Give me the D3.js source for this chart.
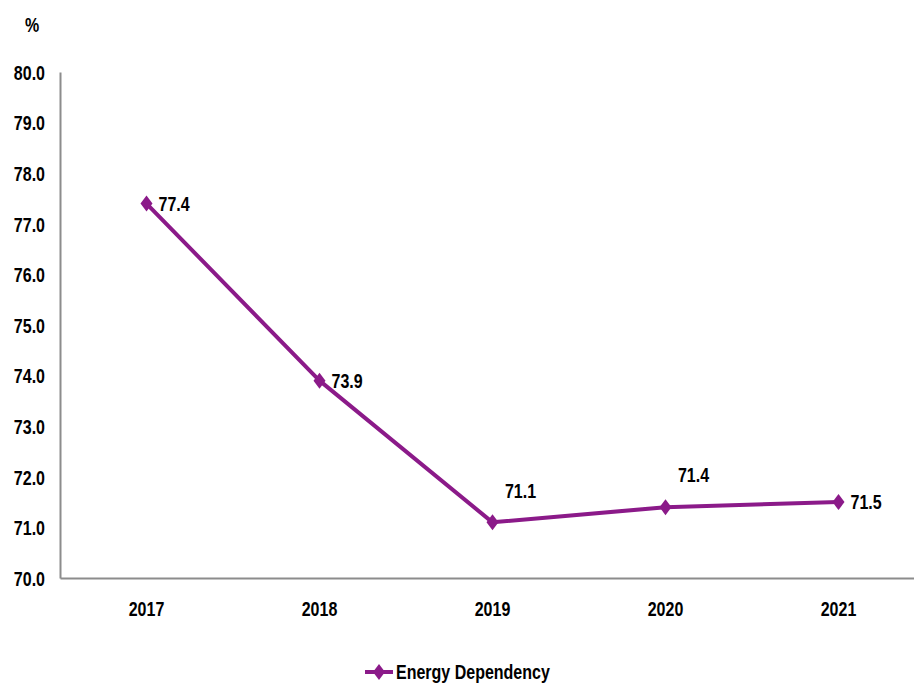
<!DOCTYPE html>
<html>
<head>
<meta charset="utf-8">
<script src="https://cdn.jsdelivr.net/npm/d3@7"></script>
<style>
  html, body { margin: 0; padding: 0; background: #fff; }
  svg { display: block; }
  text { font-family: "Liberation Sans Narrow", "Arial Narrow", "Liberation Sans", Arial, sans-serif; font-weight: bold; fill: #000; }
</style>
</head>
<body>
<svg id="chart" width="914" height="685"></svg>
<script>
// Energy dependency rate by year
const years = ["2017", "2018", "2019", "2020", "2021"];
const values = [77.4, 73.9, 71.1, 71.4, 71.5];
const yTicks = [70, 71, 72, 73, 74, 75, 76, 77, 78, 79, 80];
// label placement per point: "right" or "above"
const labelPos = ["right", "right", "above", "above", "right"];
const seriesName = "Energy Dependency";

const svg = d3.select("#chart");
const color = "#8B1A89";
const axisColor = "#8c8c8c";
const fontSize = 20;

// narrow the glyphs horizontally to get a condensed face
function condense(sel, k = 0.8) {
  sel.each(function () {
    const w = this.getComputedTextLength();
    d3.select(this).attr("textLength", w * k).attr("lengthAdjust", "spacingAndGlyphs");
  });
}

const x = d3.scaleBand().domain(years).range([60, 925]).padding(0);
const y = d3.scaleLinear().domain([70, 80]).range([578, 72]);
const cx = d => x(d) + x.bandwidth() / 2;

// Y axis
const yAxis = svg.append("g").attr("transform", "translate(60,0)")
  .call(d3.axisLeft(y).tickValues(yTicks).tickFormat(d3.format(".1f")).tickSize(0).tickPadding(15));
yAxis.select(".domain").attr("stroke", axisColor).attr("stroke-width", 2);
yAxis.selectAll("text").attr("font-size", fontSize).attr("dy", "0.36em").call(condense);

// X axis
const xAxis = svg.append("g").attr("transform", "translate(0,578)")
  .call(d3.axisBottom(x).tickSize(0).tickPadding(24));
xAxis.select(".domain").attr("stroke", axisColor).attr("stroke-width", 2);
xAxis.selectAll("text").attr("font-size", fontSize).call(condense);

// Unit label
svg.append("text").attr("x", 32).attr("y", 32).attr("text-anchor", "middle")
  .attr("font-size", fontSize).text("%").call(condense);

// Series line
const line = d3.line().x((d, i) => cx(years[i])).y(d => y(d));
svg.append("path").datum(values)
  .attr("fill", "none").attr("stroke", color).attr("stroke-width", 4)
  .attr("stroke-linejoin", "round").attr("d", line);

// Diamond markers
const diamond = "M0,-8L6,0L0,8L-6,0Z";
svg.selectAll(".marker").data(values).join("path")
  .attr("class", "marker")
  .attr("transform", (d, i) => `translate(${cx(years[i])},${y(d)})`)
  .attr("d", diamond).attr("fill", color);

// Value labels
svg.selectAll(".vlabel").data(values).join("text")
  .attr("class", "vlabel")
  .attr("font-size", fontSize)
  .attr("x", (d, i) => labelPos[i] === "right" ? cx(years[i]) + 12 : cx(years[i]) + 28)
  .attr("y", (d, i) => labelPos[i] === "right" ? y(d) : y(d) - 32)
  .attr("dy", "0.36em")
  .attr("text-anchor", (d, i) => labelPos[i] === "right" ? "start" : "middle")
  .text(d => d3.format(".1f")(d))
  .call(condense);

// Legend
const lg = svg.append("g").attr("transform", "translate(365,672)");
lg.append("line").attr("x1", 0).attr("x2", 28).attr("stroke", color).attr("stroke-width", 4);
lg.append("path").attr("d", diamond).attr("transform", "translate(14,0)").attr("fill", color);
lg.append("text").attr("x", 31).attr("dy", "0.36em").attr("font-size", fontSize).text(seriesName).call(condense);
</script>
</body>
</html>
